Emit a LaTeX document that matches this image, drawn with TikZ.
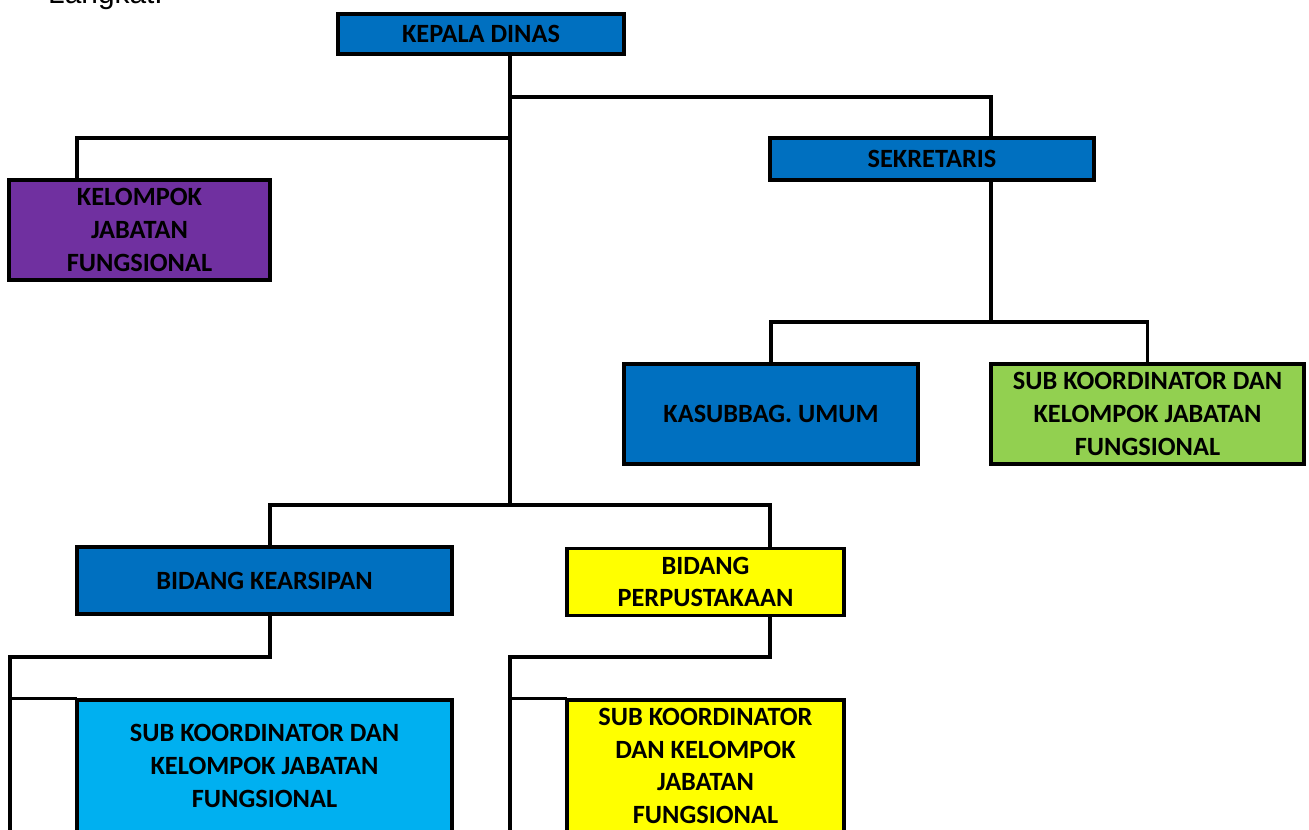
\documentclass[tikz,border=0pt]{standalone}
\usepackage{fontspec}
\setmainfont{Carlito}
\newfontfamily\arialfont{Liberation Sans}
\definecolor{biru}{HTML}{0070C0}
\definecolor{ungu}{HTML}{7030A0}
\definecolor{hijau}{HTML}{92D050}
\definecolor{kuning}{HTML}{FFFF00}
\definecolor{birumuda}{HTML}{00B0F0}
\tikzset{
  kotak/.style={draw=black, line width=2pt, align=center, inner sep=0pt,
    font=\bfseries\fontsize{15}{18.7}\selectfont},
  garis/.style={line width=2pt, line cap=rect}
}
\begin{document}
\begin{tikzpicture}[x=0.02cm,y=-0.02cm]
\useasboundingbox (0,0) rectangle (1309,829);
\clip (0,0) rectangle (1309,829);
\node[anchor=base west, font=\arialfont\fontsize{17}{20}\selectfont] (judul) at (42,3) {Langkat.};
\node[kotak, fill=biru, minimum width=5.72cm, minimum height=0.8cm] (kepala) at (481,34) {KEPALA DINAS};
\node[kotak, fill=ungu, minimum width=5.22cm, minimum height=2cm] (kjf) at (139.5,230) {KELOMPOK\\JABATAN\\FUNGSIONAL};
\node[kotak, fill=biru, minimum width=6.48cm, minimum height=0.84cm] (sek) at (932,159) {SEKRETARIS};
\node[kotak, fill=biru, minimum width=5.88cm, minimum height=2cm] (kasub) at (771,414) {KASUBBAG. UMUM};
\node[kotak, fill=hijau, minimum width=6.26cm, minimum height=2cm] (subg) at (1147.5,414) {SUB KOORDINATOR DAN\\KELOMPOK JABATAN\\FUNGSIONAL};
\node[kotak, fill=biru, minimum width=7.5cm, minimum height=1.34cm] (arsip) at (264.5,580.5) {BIDANG KEARSIPAN};
\node[kotak, fill=kuning, minimum width=5.54cm, minimum height=1.34cm] (pustaka) at (705.5,582) {BIDANG\\PERPUSTAKAAN};
\node[kotak, fill=birumuda, minimum width=7.5cm, minimum height=2.64cm] (subb) at (264.5,766) {SUB KOORDINATOR DAN\\KELOMPOK JABATAN\\FUNGSIONAL};
\node[kotak, fill=kuning, minimum width=5.54cm, minimum height=2.64cm] (suby) at (705.5,766) {SUB KOORDINATOR\\DAN KELOMPOK\\JABATAN\\FUNGSIONAL};
\coordinate (trunk) at (510,505);
\coordinate (s1) at (991,97);
\coordinate (k1) at (77,138);
\coordinate (s2) at (991,322);
\coordinate (p0) at (270,505);
\coordinate (p1) at (770,505);
\coordinate (a1) at (270,657);
\coordinate (a2) at (10,657);
\coordinate (a3) at (10,840);
\coordinate (b1) at (770,657);
\coordinate (b2) at (510,657);
\coordinate (b3) at (510,840);
\draw[garis] (kepala.south -| trunk) -- (trunk);
\draw[garis] (s1 -| trunk) -- (s1) -- (s1 |- sek.north);
\draw[garis] (k1 -| trunk) -- (k1) -- (k1 |- kjf.north);
\draw[garis] (sek.south -| s2) -- (s2);
\draw[garis] (kasub.north) |- (s2) -| (subg.north);
\draw[garis] (p0 |- arsip.north) -- (p0) -- (p1) -- (p1 |- pustaka.north);
\draw[garis] (arsip.south -| a1) -- (a1) -- (a2) -- (a3);
\draw[garis] (a2 |- subb.north) -- (subb.north west);
\draw[garis] (pustaka.south -| b1) -- (b1) -- (b2) -- (b3);
\draw[garis] (b2 |- suby.north) -- (suby.north west);
\end{tikzpicture}
\end{document}
